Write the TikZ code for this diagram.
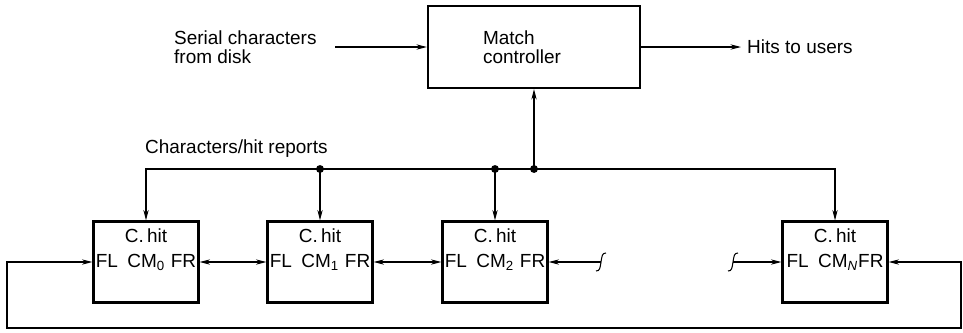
\documentclass[tikz,border=0pt]{standalone}
\usepackage{fontspec}
\setmainfont{Liberation Sans}
\usetikzlibrary{positioning, arrows.meta}
\begin{document}
\begin{tikzpicture}[
    x=0.02cm, y=-0.02cm,
    font=\fontsize{10.8}{10.8}\selectfont,
    ctrlbox/.style={rectangle, draw, line width=1.2pt, minimum width=4.24cm, minimum height=1.64cm, text width=2.04cm, inner xsep=1.1cm, inner ysep=0pt, align=left},
    hitbox/.style={rectangle, draw, line width=1.2pt, minimum width=2.1cm, minimum height=1.62cm, inner sep=1pt, label={[anchor=north, yshift=-1pt]north:C.\,hit}},
    arrow/.style={->, line width=0.6pt, >={Stealth[length=6pt, width=3pt]}},
    link/.style={line width=0.6pt},
    dot/.style={circle, fill, inner sep=0pt, minimum size=4.5pt}
]
\useasboundingbox (0,0) rectangle (963,332);

% Controller and its inputs / outputs
\node[ctrlbox] (ctrl) at (534,47) {Match\\controller};
\node[anchor=west, align=left] (src) at (168,47) {Serial characters\\from disk};
\node[anchor=west] (users) at (741,47) {Hits to users};
\draw[arrow, shorten <=7pt] (src.east) -- (ctrl.west);
\draw[arrow] (ctrl.east) -- (users.west);

% Character match cells
\node[hitbox] (chit0) at (146,262) {FL\hspace{0.5em}CM\textsubscript{0}\hspace{0.3em}FR};
\node[hitbox] (chit1) at (320,262) {FL\hspace{0.5em}CM\textsubscript{1}\hspace{0.3em}FR};
\node[hitbox] (chit2) at (495,262) {FL\hspace{0.5em}CM\textsubscript{2}\hspace{0.3em}FR};
\node[hitbox] (chitN) at (835,262) {FL\hspace{0.5em}CM\textsubscript{\itshape N}FR};

% Bus
\node[anchor=south west, inner sep=1pt] (buslabel) at (143,160) {Characters/hit reports};
\coordinate (j1) at (320,169);
\coordinate (j2) at (495,169);
\coordinate (j3) at (534,169);
\draw[link] (j1) -- (j3);
\draw[arrow] (j1) -| (chit0.north);
\draw[arrow] (j1) -- (chit1.north);
\draw[arrow] (j2) -- (chit2.north);
\draw[arrow] (j3) -| (chitN.north);
\draw[arrow] (j3) -- (ctrl.south);
\node[dot] at (j1) {};
\node[dot] at (j2) {};
\node[dot] at (j3) {};

% Flag lines between neighbours
\draw[arrow, <->] (chit0.east) -- (chit1.west);
\draw[arrow, <->] (chit1.east) -- (chit2.west);
\coordinate (brk2) at (601,262);
\coordinate (brkN) at (733,262);
\draw[arrow] (brk2) -- (chit2.east);
\draw[arrow] (brkN) -- (chitN.west);
\draw[link] (brk2) ++(-5,9) .. controls +(4,0) and +(-1,6) .. (brk2) .. controls +(1,-6) and +(-4,0) .. ++(5,-9);
\draw[link] (brkN) ++(-5,9) .. controls +(4,0) and +(-1,6) .. (brkN) .. controls +(1,-6) and +(-4,0) .. ++(5,-9);

% Wrap-around
\coordinate (loopL) at (7,328);
\coordinate (loopR) at (961,328);
\draw[arrow, <->] (chit0.west) -| (loopL) -- (loopR) |- (chitN.east);
\end{tikzpicture}
\end{document}
